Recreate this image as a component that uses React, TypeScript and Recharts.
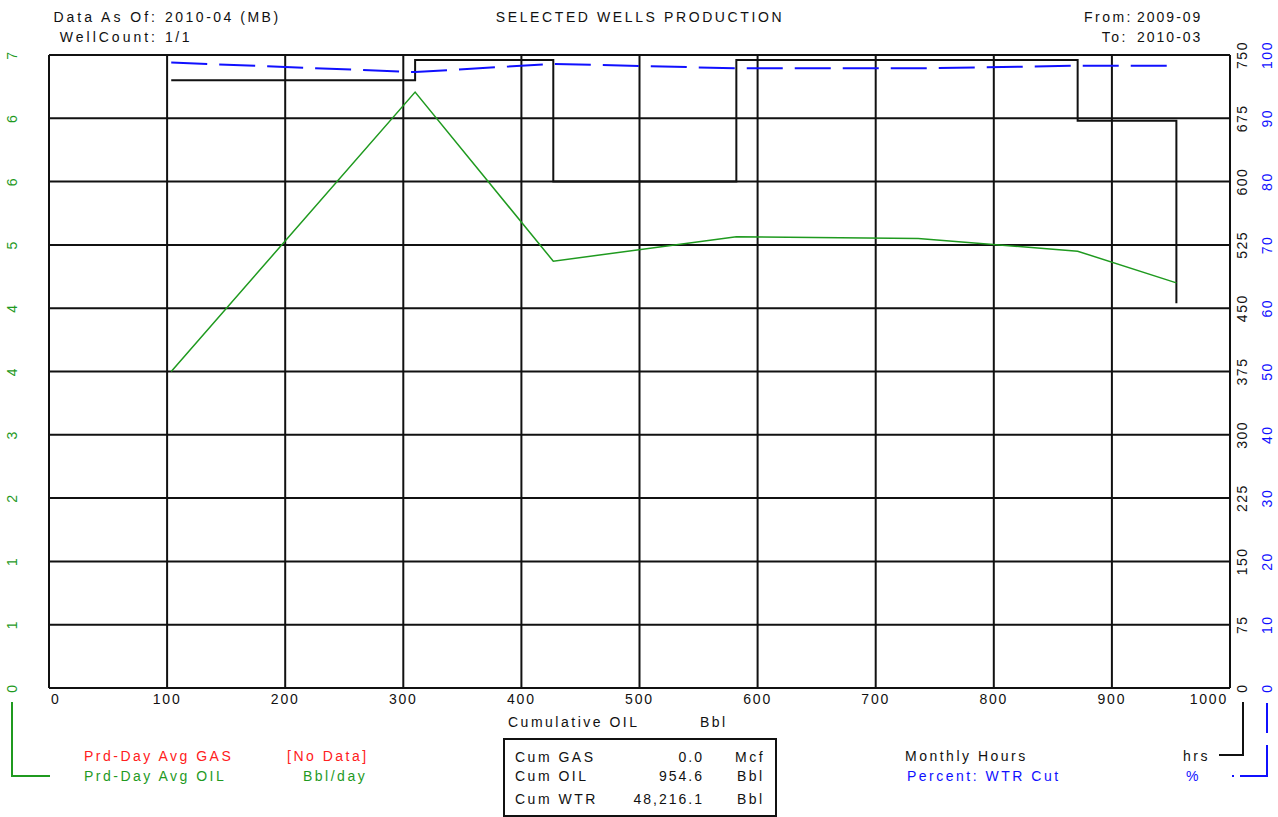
import { CartesianGrid, ComposedChart, Line, XAxis, YAxis } from "recharts"

// monthly production, x is cumulative oil at end of month
const months = ["2009-09", "2009-10", "2009-11", "2009-12", "2010-01", "2010-02", "2010-03"]
const cumOil = [103.5, 310, 427, 582, 736, 871, 954.6]
const oilRate = [3.5, 6.59, 4.72, 4.99, 4.97, 4.83, 4.48]
const monthlyHours = [720, 744, 600, 744, 744, 672, 456]
const wtrCut = [98.8, 97.3, 98.6, 97.9, 97.9, 98.3, 98.3]

const xTicks = [0, 100, 200, 300, 400, 500, 600, 700, 800, 900, 1000]
const oilTicks = [0, 0.7, 1.4, 2.1, 2.8, 3.5, 4.2, 4.9, 5.6, 6.3, 7]
const hourTicks = [0, 75, 150, 225, 300, 375, 450, 525, 600, 675, 750]
const pctTicks = [0, 10, 20, 30, 40, 50, 60, 70, 80, 90, 100]

const data = months.map((m, i) => ({
  month: m,
  cum: cumOil[i],
  oil: oilRate[i],
  hrs: monthlyHours[i],
  wtr: wtrCut[i],
}))

const FONT = "'Liberation Sans', Arial, sans-serif"
const GREEN = "#1f9a1f"
const BLUE = "#1010ff"
const RED = "#ff2020"

const txt = (extra: React.CSSProperties): React.CSSProperties => ({
  position: "absolute",
  fontFamily: FONT,
  fontSize: 14,
  letterSpacing: 2.5,
  lineHeight: "16px",
  whiteSpace: "pre",
  color: "#111",
  ...extra,
})

function RotTick(props: any) {
  const { x, y, payload, color, dx, fmt } = props
  const cx = x + dx
  return (
    <text
      x={cx}
      y={y}
      transform={`rotate(-90, ${cx}, ${y})`}
      textAnchor="middle"
      dominantBaseline="central"
      fill={color}
      fontFamily={FONT}
      fontSize={14}
      letterSpacing={1.5}
    >
      {fmt ? fmt(payload.value) : payload.value}
    </text>
  )
}

function XTick(props: any) {
  const { x, y, payload } = props
  let anchor = "middle"
  let px = x
  if (payload.value === 0) { anchor = "start"; px = x + 2 }
  if (payload.value === 1000) { anchor = "end"; px = x - 2 }
  return (
    <text x={px} y={y + 8} textAnchor={anchor} fill="#111" fontFamily={FONT} fontSize={14} letterSpacing={1.8}>
      {payload.value}
    </text>
  )
}

export default function App() {
  return (
    <div style={{ position: "absolute", left: 0, top: 0, width: 1278, height: 817, background: "#fff" }}>
      <ComposedChart width={1278} height={817} data={data} margin={{ top: 55, right: 0, left: 0, bottom: 99 }}>
        <CartesianGrid yAxisId="oil" stroke="#111" strokeWidth={2} />
        <XAxis
          dataKey="cum"
          type="number"
          domain={[0, 1000]}
          ticks={xTicks}
          height={30}
          tickLine={false}
          axisLine={{ stroke: "#111", strokeWidth: 2 }}
          tick={<XTick />}
        />
        <YAxis
          yAxisId="oil"
          orientation="left"
          domain={[0, 7]}
          ticks={oilTicks}
          width={49}
          tickLine={false}
          axisLine={{ stroke: "#111", strokeWidth: 2 }}
          tick={<RotTick color={GREEN} dx={-29} fmt={(v: number) => Math.round(v)} />}
        />
        <YAxis
          yAxisId="hrs"
          orientation="right"
          domain={[0, 750]}
          ticks={hourTicks}
          width={25}
          tickLine={false}
          axisLine={{ stroke: "#111", strokeWidth: 2 }}
          tick={<RotTick color="#111" dx={4} />}
        />
        <YAxis
          yAxisId="pct"
          orientation="right"
          domain={[0, 100]}
          ticks={pctTicks}
          width={23}
          tickLine={false}
          axisLine={false}
          tick={<RotTick color={BLUE} dx={4} />}
        />
        <Line
          yAxisId="hrs"
          dataKey="hrs"
          type="stepAfter"
          stroke="#111"
          strokeWidth={2}
          dot={false}
          isAnimationActive={false}
        />
        <Line
          yAxisId="pct"
          dataKey="wtr"
          type="linear"
          stroke={BLUE}
          strokeWidth={2}
          strokeDasharray="36 12"
          dot={false}
          isAnimationActive={false}
        />
        <Line
          yAxisId="oil"
          dataKey="oil"
          type="linear"
          stroke={GREEN}
          strokeWidth={1.5}
          dot={false}
          isAnimationActive={false}
        />
      </ComposedChart>

      {/* header */}
      <div style={txt({ left: 0, width: 158, top: 9, textAlign: "right", letterSpacing: 3 })}>Data As Of:</div>
      <div style={txt({ left: 165, top: 9 })}>2010-04 (MB)</div>
      <div style={txt({ left: 0, width: 158, top: 29, textAlign: "right", letterSpacing: 3 })}>WellCount:</div>
      <div style={txt({ left: 165, top: 29 })}>1/1</div>
      <div style={txt({ left: 440, width: 400, top: 9, textAlign: "center", letterSpacing: 2.6 })}>SELECTED WELLS PRODUCTION</div>
      <div style={txt({ left: 1000, width: 133, top: 9, textAlign: "right" })}>From:</div>
      <div style={txt({ left: 1137, top: 9, letterSpacing: 2 })}>2009-09</div>
      <div style={txt({ left: 1000, width: 128, top: 29, textAlign: "right" })}>To:</div>
      <div style={txt({ left: 1137, top: 29, letterSpacing: 2 })}>2010-03</div>

      {/* x axis title */}
      <div style={txt({ left: 508, top: 714 })}>Cumulative OIL</div>
      <div style={txt({ left: 700, top: 714 })}>Bbl</div>

      {/* left legend */}
      <div style={{ position: "absolute", left: 11, top: 702, width: 37, height: 73, borderLeft: `2px solid ${GREEN}`, borderBottom: `2px solid ${GREEN}` }} />
      <div style={txt({ left: 84, top: 748, color: RED })}>Prd-Day Avg GAS</div>
      <div style={txt({ left: 287, top: 748, color: RED })}>[No Data]</div>
      <div style={txt({ left: 84, top: 768, color: GREEN })}>Prd-Day Avg OIL</div>
      <div style={txt({ left: 303, top: 768, color: GREEN })}>Bbl/day</div>

      {/* cum box */}
      <div style={{ position: "absolute", left: 503, top: 738, width: 270, height: 75, border: "2px solid #111" }} />
      <div style={txt({ left: 515, top: 749 })}>Cum GAS</div>
      <div style={txt({ left: 600, width: 104, top: 749, textAlign: "right", letterSpacing: 2 })}>0.0</div>
      <div style={txt({ left: 735, top: 749 })}>Mcf</div>
      <div style={txt({ left: 515, top: 768 })}>Cum OIL</div>
      <div style={txt({ left: 600, width: 104, top: 768, textAlign: "right", letterSpacing: 2 })}>954.6</div>
      <div style={txt({ left: 737, top: 768 })}>Bbl</div>
      <div style={txt({ left: 515, top: 791 })}>Cum WTR</div>
      <div style={txt({ left: 600, width: 104, top: 791, textAlign: "right", letterSpacing: 2 })}>48,216.1</div>
      <div style={txt({ left: 737, top: 791 })}>Bbl</div>

      {/* right legend */}
      <div style={txt({ left: 905, top: 748 })}>Monthly Hours</div>
      <div style={txt({ left: 1183, top: 748 })}>hrs</div>
      <div style={{ position: "absolute", left: 1219, top: 702, width: 23, height: 52, borderRight: "2px solid #111", borderBottom: "2px solid #111" }} />
      <div style={txt({ left: 907, top: 768, color: BLUE })}>Percent: WTR Cut</div>
      <div style={txt({ left: 1186, top: 768, color: BLUE })}>%</div>
      <div style={{ position: "absolute", left: 1232, top: 775, width: 2, height: 2, background: BLUE }} />
      <div style={{ position: "absolute", left: 1266, top: 703, width: 2, height: 30, background: BLUE }} />
      <div style={{ position: "absolute", left: 1266, top: 745, width: 2, height: 32, background: BLUE }} />
      <div style={{ position: "absolute", left: 1240, top: 775, width: 28, height: 2, background: BLUE }} />
    </div>
  )
}
